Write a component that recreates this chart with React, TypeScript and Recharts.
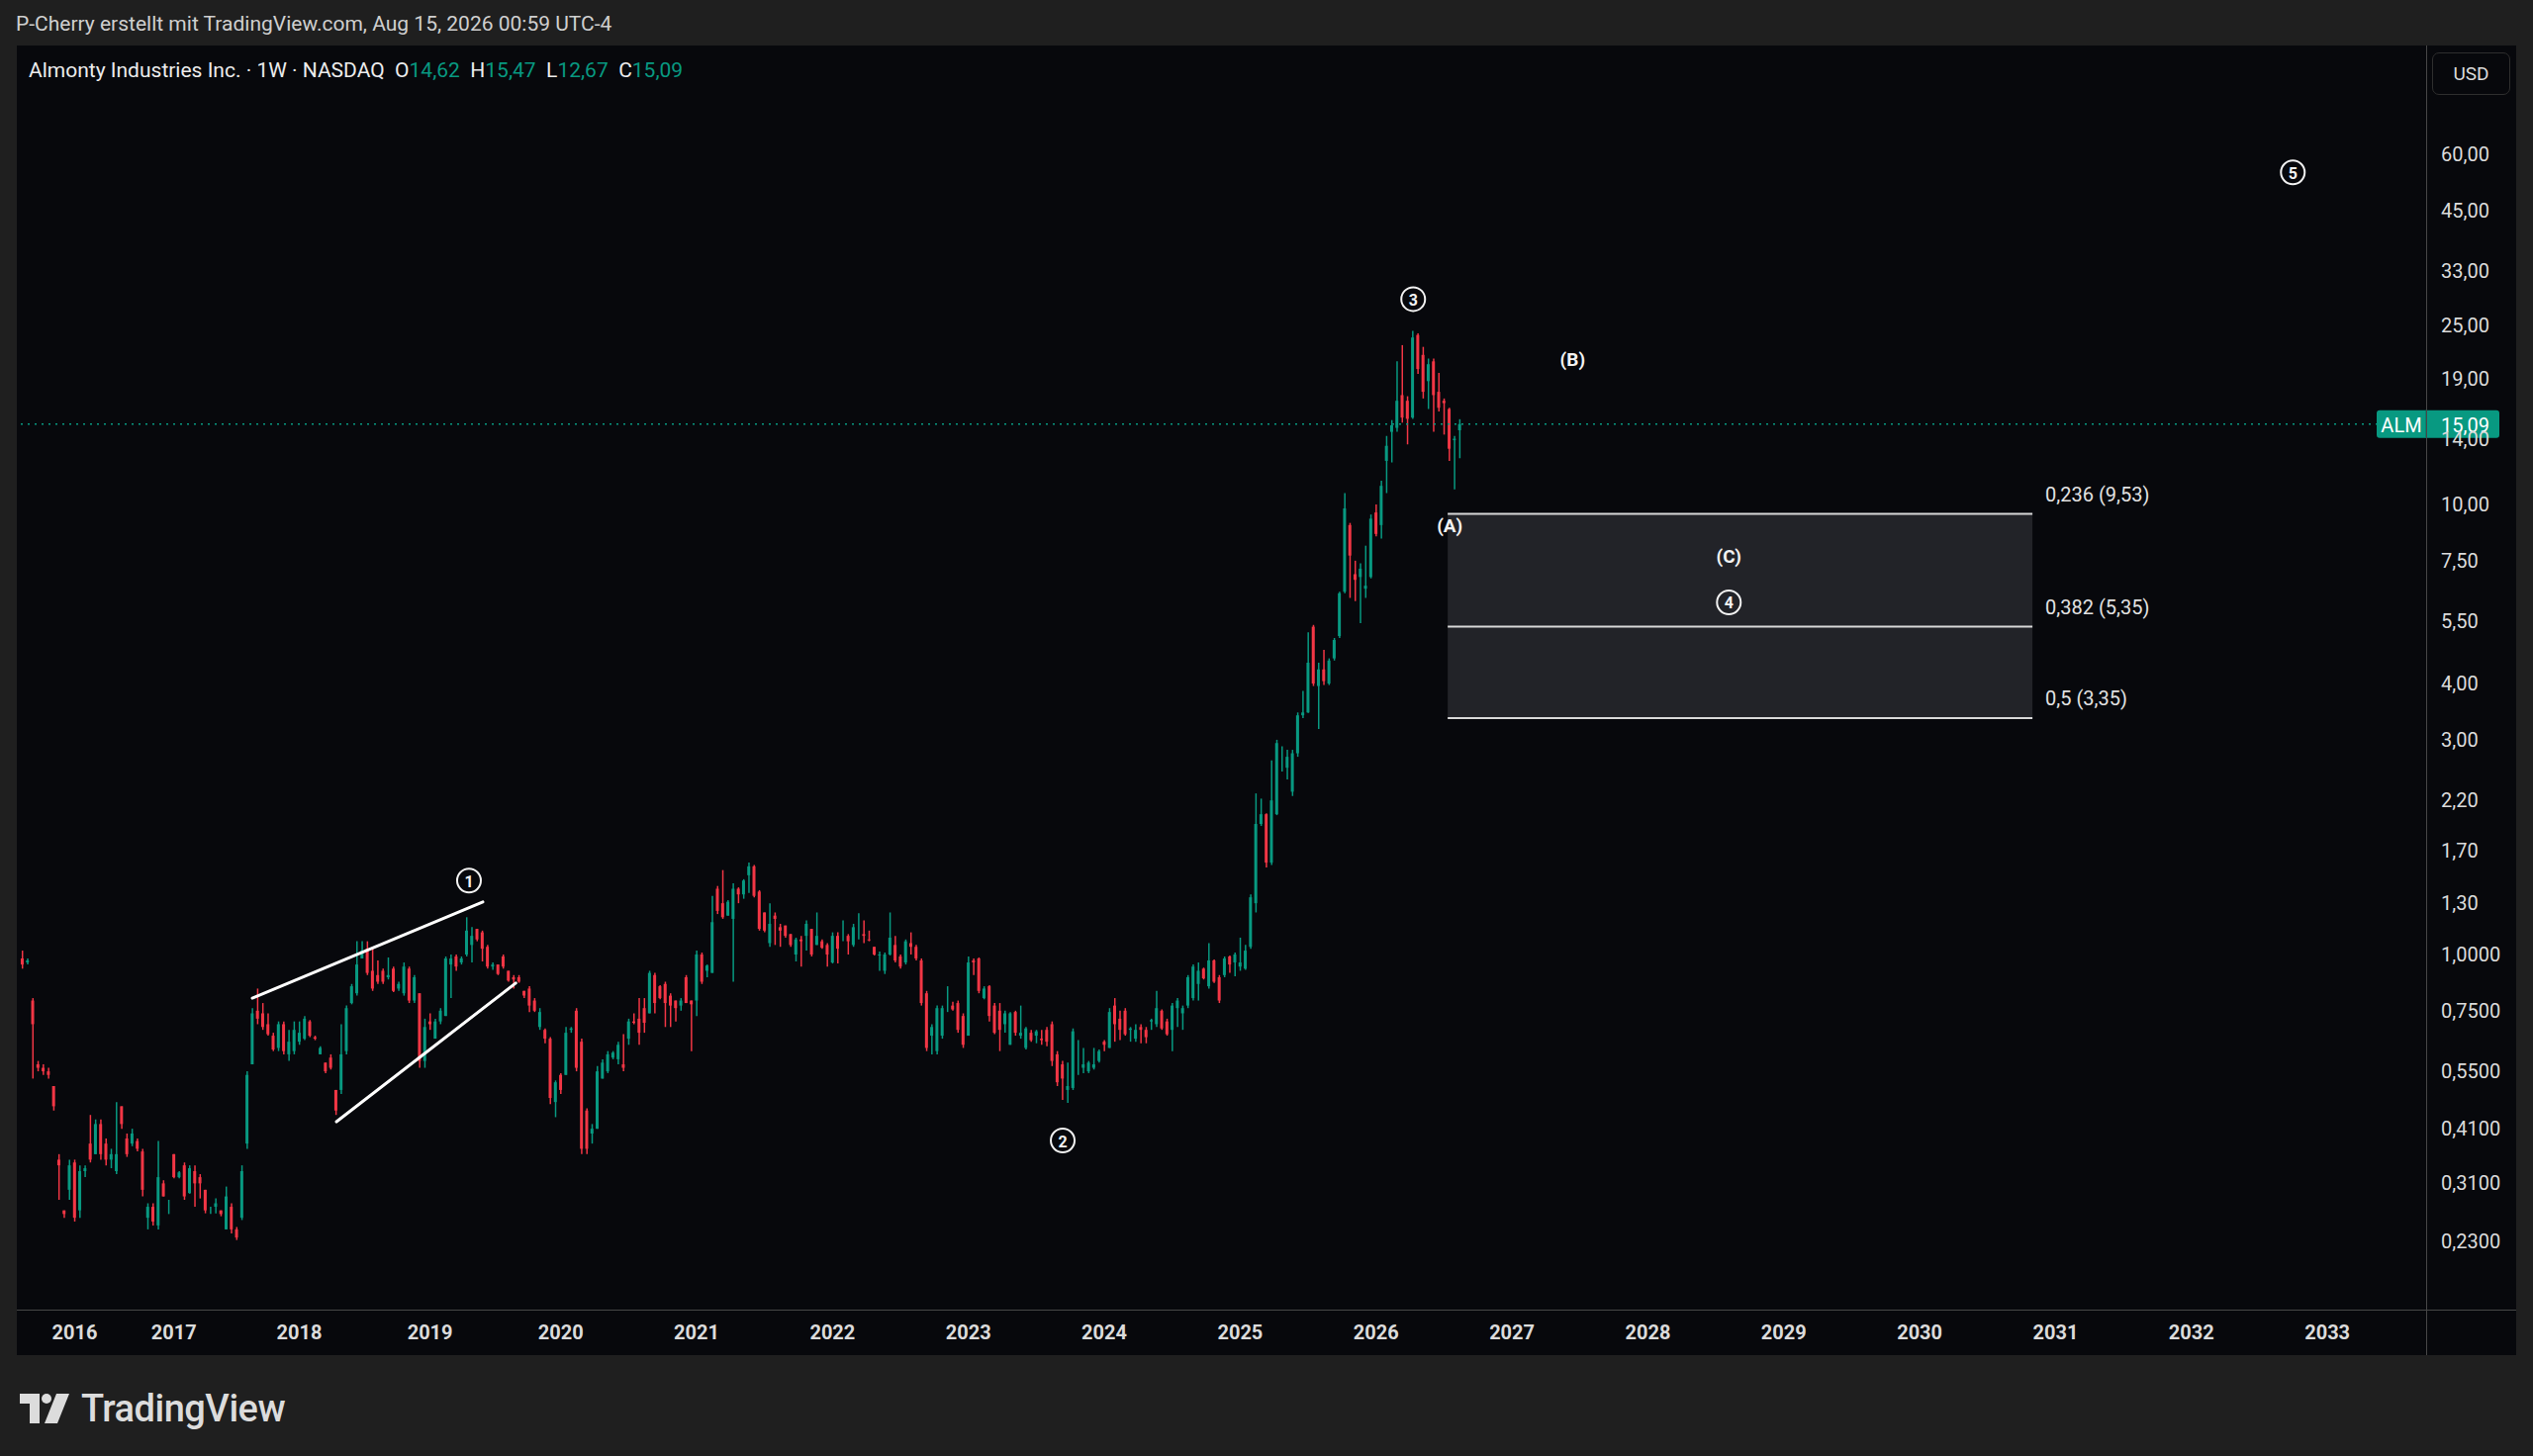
import React from 'react';
import {
  ComposedChart,
  Bar,
  Cell,
  XAxis,
  YAxis,
  ReferenceLine,
  ReferenceArea,
  ReferenceDot,
} from 'recharts';

type OHLC = [number, number, number, number];

// two-week candles, [open, high, low, close]
const bars2015: OHLC[] = [
  [0.98, 1.02, 0.93, 0.95], [0.96, 0.98, 0.95, 0.97], [0.79, 0.8, 0.53, 0.7], [0.57, 0.58, 0.55, 0.56],
  [0.56, 0.57, 0.54, 0.55], [0.55, 0.56, 0.53, 0.54], [0.51, 0.51, 0.45, 0.46], [0.35, 0.36, 0.285, 0.34],
  [0.27, 0.27, 0.26, 0.265], [0.3, 0.35, 0.285, 0.34],
];
const bars2016: OHLC[] = [
  [0.345, 0.35, 0.255, 0.26], [0.27, 0.34, 0.26, 0.33], [0.33, 0.34, 0.32, 0.335], [0.38, 0.44, 0.345, 0.35],
  [0.36, 0.43, 0.36, 0.42], [0.42, 0.43, 0.35, 0.36], [0.38, 0.39, 0.34, 0.35], [0.35, 0.37, 0.335, 0.36],
  [0.33, 0.47, 0.325, 0.36], [0.46, 0.46, 0.41, 0.42], [0.39, 0.4, 0.355, 0.36], [0.38, 0.41, 0.375, 0.4],
  [0.385, 0.39, 0.365, 0.37], [0.365, 0.37, 0.29, 0.3], [0.26, 0.28, 0.245, 0.275], [0.275, 0.28, 0.25, 0.255],
  [0.25, 0.385, 0.245, 0.32], [0.31, 0.315, 0.29, 0.29], [0.28, 0.285, 0.265, 0.28],
];
const bars2017: OHLC[] = [
  [0.36, 0.36, 0.318, 0.32], [0.32, 0.33, 0.318, 0.328], [0.34, 0.345, 0.285, 0.29], [0.295, 0.34, 0.294, 0.335],
  [0.33, 0.34, 0.275, 0.31], [0.32, 0.325, 0.287, 0.31], [0.3, 0.3, 0.266, 0.27], [0.27, 0.275, 0.265, 0.27],
  [0.275, 0.287, 0.266, 0.28], [0.27, 0.27, 0.262, 0.265], [0.245, 0.305, 0.245, 0.29], [0.275, 0.28, 0.24, 0.245],
  [0.245, 0.248, 0.232, 0.235], [0.26, 0.34, 0.257, 0.33], [0.38, 0.55, 0.37, 0.54], [0.57, 0.76, 0.57, 0.74],
  [0.75, 0.84, 0.7, 0.72], [0.74, 0.78, 0.68, 0.69], [0.7, 0.74, 0.66, 0.665], [0.66, 0.67, 0.61, 0.615],
  [0.62, 0.71, 0.61, 0.7], [0.7, 0.71, 0.6, 0.61], [0.6, 0.68, 0.58, 0.64], [0.61, 0.71, 0.6, 0.68],
];
const bars2018: OHLC[] = [
  [0.64, 0.71, 0.63, 0.67], [0.65, 0.73, 0.645, 0.72], [0.71, 0.715, 0.655, 0.66], [0.655, 0.66, 0.645, 0.65],
  [0.6, 0.625, 0.6, 0.62], [0.575, 0.575, 0.545, 0.55], [0.59, 0.6, 0.555, 0.56], [0.5, 0.5, 0.44, 0.45],
  [0.5, 0.7, 0.49, 0.6], [0.61, 0.77, 0.6, 0.76], [0.78, 0.86, 0.775, 0.85], [0.82, 1.07, 0.81, 0.95],
  [0.98, 1.07, 0.98, 1.02], [1.03, 1.07, 0.9, 0.91], [0.92, 1.04, 0.83, 0.84], [0.9, 0.97, 0.86, 0.87],
  [0.92, 0.93, 0.86, 0.87], [0.89, 0.985, 0.88, 0.9], [0.93, 0.94, 0.825, 0.83], [0.84, 0.87, 0.83, 0.86],
  [0.82, 0.96, 0.81, 0.94], [0.93, 0.94, 0.78, 0.79], [0.79, 0.9, 0.78, 0.89], [0.82, 0.82, 0.56, 0.58],
  [0.58, 0.72, 0.56, 0.69],
];
const bars2019: OHLC[] = [
  [0.71, 0.74, 0.68, 0.7], [0.65, 0.72, 0.65, 0.71], [0.71, 0.76, 0.7, 0.75], [0.73, 0.99, 0.73, 0.98],
  [0.95, 1.0, 0.8, 0.98], [0.99, 1.0, 0.92, 0.94], [0.96, 0.99, 0.95, 0.98], [1.0, 1.21, 0.99, 1.13],
  [1.05, 1.15, 0.96, 1.1], [1.14, 1.14, 1.07, 1.08], [1.12, 1.13, 0.965, 1.03], [1.04, 1.05, 0.93, 0.94],
  [0.94, 0.96, 0.925, 0.95], [0.95, 0.95, 0.9, 0.905], [0.99, 1.0, 0.93, 0.94], [0.92, 0.92, 0.87, 0.875],
  [0.89, 0.9, 0.84, 0.88], [0.89, 0.9, 0.865, 0.87], [0.83, 0.83, 0.8, 0.81], [0.84, 0.85, 0.745, 0.77],
  [0.79, 0.8, 0.745, 0.75], [0.69, 0.76, 0.68, 0.745], [0.68, 0.685, 0.635, 0.65], [0.65, 0.655, 0.465, 0.48],
  [0.47, 0.525, 0.435, 0.52],
];
const bars2020: OHLC[] = [
  [0.54, 0.545, 0.49, 0.5], [0.54, 0.69, 0.54, 0.67], [0.68, 0.69, 0.67, 0.685], [0.75, 0.76, 0.55, 0.56],
  [0.64, 0.65, 0.36, 0.37], [0.45, 0.455, 0.36, 0.37], [0.4, 0.42, 0.38, 0.41], [0.41, 0.565, 0.41, 0.55],
  [0.53, 0.585, 0.53, 0.575], [0.55, 0.61, 0.545, 0.6], [0.59, 0.61, 0.585, 0.605], [0.585, 0.64, 0.57, 0.63],
  [0.57, 0.665, 0.55, 0.56], [0.65, 0.72, 0.63, 0.71], [0.71, 0.74, 0.7, 0.705], [0.72, 0.8, 0.63, 0.67],
  [0.76, 0.8, 0.67, 0.705], [0.74, 0.92, 0.74, 0.91], [0.9, 0.91, 0.74, 0.78], [0.85, 0.855, 0.795, 0.8],
  [0.86, 0.87, 0.69, 0.78], [0.81, 0.82, 0.69, 0.77], [0.79, 0.79, 0.71, 0.76], [0.77, 0.8, 0.75, 0.79],
  [0.89, 0.9, 0.78, 0.78], [0.79, 0.79, 0.61, 0.775],
];
const bars2021: OHLC[] = [
  [0.79, 1.02, 0.73, 1.0], [1.0, 1.01, 0.86, 0.87], [0.92, 0.95, 0.89, 0.945], [0.91, 1.35, 0.91, 1.18],
  [1.4, 1.42, 1.23, 1.25], [1.3, 1.54, 1.2, 1.21], [1.22, 1.32, 1.22, 1.31], [1.2, 1.44, 0.87, 1.4],
  [1.4, 1.41, 1.3, 1.36], [1.36, 1.47, 1.33, 1.46], [1.5, 1.6, 1.37, 1.57], [1.57, 1.58, 1.34, 1.35],
  [1.38, 1.39, 1.13, 1.14], [1.24, 1.24, 1.12, 1.13], [1.06, 1.3, 1.04, 1.17], [1.22, 1.24, 1.05, 1.2],
  [1.15, 1.17, 1.04, 1.13], [1.16, 1.16, 1.09, 1.1], [1.11, 1.11, 1.04, 1.05], [1.0, 1.09, 0.965, 1.08],
  [1.08, 1.1, 0.94, 1.07], [1.1, 1.19, 1.02, 1.17], [1.14, 1.14, 0.99, 1.0], [1.05, 1.24, 1.05, 1.1],
  [1.07, 1.08, 1.03, 1.035], [1.05, 1.06, 0.94, 1.0],
];
const bars2022: OHLC[] = [
  [0.96, 1.12, 0.955, 1.1], [1.1, 1.12, 0.955, 1.03], [1.08, 1.19, 1.07, 1.08], [1.1, 1.11, 1.0, 1.07],
  [1.05, 1.17, 1.04, 1.15], [1.12, 1.235, 1.08, 1.12], [1.11, 1.19, 1.06, 1.1], [1.08, 1.13, 1.07, 1.075],
  [1.04, 1.04, 0.995, 1.0], [0.995, 1.015, 0.92, 1.0], [0.92, 1.01, 0.905, 1.0], [1.0, 1.24, 0.995, 1.09],
  [1.05, 1.1, 0.96, 0.97], [0.99, 1.0, 0.93, 0.94], [0.96, 1.08, 0.95, 1.07], [1.06, 1.12, 1.0, 1.04],
  [1.04, 1.05, 0.97, 0.98], [0.97, 0.98, 0.77, 0.78], [0.82, 0.83, 0.61, 0.62], [0.66, 0.7, 0.6, 0.69],
  [0.61, 0.77, 0.6, 0.76], [0.66, 0.77, 0.65, 0.76], [0.76, 0.85, 0.745, 0.76], [0.77, 0.785, 0.75, 0.755],
  [0.78, 0.79, 0.67, 0.68], [0.73, 0.74, 0.62, 0.63],
];
const bars2023: OHLC[] = [
  [0.66, 0.99, 0.66, 0.96], [0.97, 0.98, 0.9, 0.96], [0.98, 0.985, 0.82, 0.83], [0.8, 0.85, 0.795, 0.84],
  [0.85, 0.855, 0.71, 0.73], [0.77, 0.78, 0.665, 0.67], [0.75, 0.78, 0.61, 0.68], [0.7, 0.75, 0.67, 0.74],
  [0.63, 0.745, 0.63, 0.74], [0.745, 0.75, 0.66, 0.67], [0.66, 0.77, 0.65, 0.67], [0.62, 0.69, 0.615, 0.685],
  [0.67, 0.68, 0.64, 0.645], [0.66, 0.68, 0.635, 0.675], [0.65, 0.68, 0.63, 0.645], [0.68, 0.69, 0.625, 0.64],
  [0.7, 0.71, 0.565, 0.58], [0.6, 0.61, 0.51, 0.52], [0.57, 0.58, 0.475, 0.53], [0.5, 0.575, 0.468, 0.51],
  [0.505, 0.685, 0.5, 0.675], [0.6, 0.645, 0.54, 0.6], [0.56, 0.62, 0.545, 0.57], [0.55, 0.58, 0.545, 0.575],
  [0.56, 0.62, 0.555, 0.57], [0.58, 0.615, 0.575, 0.61],
];
const bars2024: OHLC[] = [
  [0.64, 0.645, 0.61, 0.63], [0.62, 0.76, 0.62, 0.745], [0.77, 0.8, 0.64, 0.7], [0.72, 0.75, 0.645, 0.68],
  [0.75, 0.76, 0.66, 0.665], [0.68, 0.69, 0.64, 0.685], [0.65, 0.7, 0.64, 0.68], [0.69, 0.7, 0.635, 0.68],
  [0.68, 0.69, 0.635, 0.655], [0.71, 0.72, 0.68, 0.715], [0.7, 0.83, 0.69, 0.76], [0.75, 0.755, 0.68, 0.685],
  [0.71, 0.72, 0.66, 0.665], [0.68, 0.78, 0.61, 0.77], [0.76, 0.8, 0.69, 0.79], [0.74, 0.77, 0.68, 0.76],
  [0.77, 0.9, 0.76, 0.89], [0.8, 0.95, 0.79, 0.94], [0.86, 0.96, 0.79, 0.92], [0.93, 0.935, 0.88, 0.885],
  [0.85, 1.06, 0.84, 0.97], [0.97, 0.975, 0.865, 0.87], [0.89, 0.9, 0.78, 0.79], [0.9, 0.99, 0.89, 0.98],
  [0.99, 0.995, 0.91, 0.95], [0.96, 1.01, 0.895, 1.0],
];
const bars2025: OHLC[] = [
  [0.94, 1.09, 0.92, 0.96], [0.93, 1.05, 0.925, 1.02], [1.04, 1.36, 1.03, 1.34], [1.3, 2.28, 1.24, 1.95],
  [1.95, 2.22, 1.93, 2.05], [2.05, 2.06, 1.56, 1.6], [1.6, 2.7, 1.58, 2.2], [2.05, 3.0, 2.04, 2.95],
  [2.85, 2.9, 2.55, 2.85], [2.6, 2.85, 2.45, 2.75], [2.3, 2.85, 2.25, 2.8], [2.8, 3.45, 2.75, 3.4],
  [3.4, 3.85, 3.35, 3.45], [3.45, 5.2, 3.44, 4.45], [5.35, 5.4, 3.95, 4.0], [3.95, 4.45, 3.17, 4.3],
  [4.3, 4.75, 3.97, 4.05], [4.0, 4.55, 3.97, 4.5], [4.55, 5.05, 4.5, 5.0], [5.1, 6.4, 5.05, 6.35],
  [6.4, 10.6, 6.35, 9.8], [9.0, 9.1, 6.2, 7.7], [7.0, 7.5, 6.1, 6.8], [6.9, 7.4, 5.45, 7.2],
  [6.5, 8.1, 6.2, 6.6], [6.9, 9.5, 6.85, 9.3],
];
const bars2026: OHLC[] = [
  [9.6, 10.0, 8.5, 8.6], [9.0, 11.3, 8.4, 11.0], [12.5, 14.2, 10.6, 13.5], [14.5, 15.4, 12.4, 15.0],
  [14.8, 20.8, 14.5, 17.0], [17.5, 22.6, 15.2, 15.6], [17.0, 17.4, 13.6, 15.5], [15.6, 24.3, 15.5, 23.5],
  [23.8, 24.0, 19.5, 20.0], [21.5, 22.4, 17.2, 17.8], [18.8, 21.1, 16.3, 20.5], [20.8, 21.1, 14.5, 17.5],
  [17.8, 19.6, 16.1, 16.4], [17.0, 17.2, 14.3, 16.8], [16.3, 16.4, 12.5, 13.3], [13.9, 14.2, 10.8, 14.0],
  [14.62, 15.47, 12.67, 15.09],
];

const dataYears = [2015, 2016, 2017, 2018, 2019, 2020, 2021, 2022, 2023, 2024, 2025, 2026];
const yearBlocks = [bars2015, bars2016, bars2017, bars2018, bars2019, bars2020, bars2021, bars2022, bars2023, bars2024, bars2025, bars2026];
const slotsPerYear = 26;

const yearLabels = ['2016', '2017', '2018', '2019', '2020', '2021', '2022', '2023', '2024', '2025', '2026', '2027', '2028', '2029', '2030', '2031', '2032', '2033'];
const priceTicks = [60, 45, 33, 25, 19, 14, 10, 7.5, 5.5, 4, 3, 2.2, 1.7, 1.3, 1, 0.75, 0.55, 0.41, 0.31, 0.23];
const priceTickLabels = ['60,00', '45,00', '33,00', '25,00', '19,00', '14,00', '10,00', '7,50', '5,50', '4,00', '3,00', '2,20', '1,70', '1,30', '1,0000', '0,7500', '0,5500', '0,4100', '0,3100', '0,2300'];

const ticker = 'ALM';
const fibLevels = [
  { ratio: '0,236', price: 9.53 },
  { ratio: '0,382', price: 5.35 },
  { ratio: '0,5', price: 3.35 },
];
const fibSpan = [2026.527, 2030.83];

// elliott wave marks: [text, circled, decimal year, price]
const waveMarks: [string, boolean, number, number][] = [
  ['1', true, 2019.298, 1.46],
  ['2', true, 2023.694, 0.386],
  ['3', true, 2026.273, 28.6],
  ['4', true, 2028.596, 6.06],
  ['5', true, 2032.746, 54.7],
  ['(A)', false, 2026.542, 8.95],
  ['(B)', false, 2027.446, 21.0],
  ['(C)', false, 2028.596, 7.65],
];
// wedge trend lines: [year1, price1, year2, price2]
const wedgeLines: [number, number, number, number][] = [
  [2017.625, 0.8, 2019.404, 1.308],
  [2018.284, 0.425, 2019.656, 0.864],
];

const UP = '#089981';
const DOWN = '#f23645';
const BG = '#07080c';
const PAGE = '#1f1f1f';
const TEXT = '#dbdbdb';
const FONT = 'Roboto, "Noto Sans", sans-serif';

const lastDataYear = dataYears[dataYears.length - 1];
const yearStart: Record<number, number> = {};
{
  let acc = 0;
  dataYears.forEach((y, k) => {
    yearStart[y] = acc;
    acc += yearBlocks[k].length;
  });
}
const startOf = (y: number) =>
  y <= lastDataYear ? yearStart[y] : yearStart[lastDataYear] + slotsPerYear * (y - lastDataYear);
const idxOf = (t: number) => {
  const y = Math.floor(t);
  return startOf(y) + (t - y) * (startOf(y + 1) - startOf(y));
};

const candles = yearBlocks.flat().map(([o, h, l, c], i) => ({
  i,
  o,
  h,
  l,
  c,
  wick: [l, h],
  body: [Math.min(o, c), Math.max(o, c)],
  up: c >= o,
}));
const last = candles[candles.length - 1];

const yearTicks = yearLabels.map((y) => startOf(Number(y)));
const viewStart = -1.06;
const viewEnd = idxOf(2033.727);

const fmt2 = (v: number) => v.toFixed(2).replace('.', ',');

function LastPriceTag(props: any) {
  const { viewBox } = props;
  const y = viewBox.y;
  const xr = viewBox.x + viewBox.width;
  return (
    <g>
      <rect x={xr - 50} y={y - 14} width={124} height={28} rx={3} fill={UP} />
      <line x1={xr} x2={xr} y1={y - 14} y2={y + 14} stroke="#067a68" strokeWidth={1.5} />
      <text x={xr - 25} y={y + 1} textAnchor="middle" dominantBaseline="central" fill="#ffffff" fontSize={20} fontFamily={FONT}>
        {ticker}
      </text>
      <text x={xr + 15} y={y + 1} dominantBaseline="central" fill="#ffffff" fontSize={20} fontFamily={FONT}>
        {fmt2(last.c)}
      </text>
    </g>
  );
}

function FibTag(props: any) {
  const { viewBox, text } = props;
  return (
    <text
      x={viewBox.x + viewBox.width + 13}
      y={viewBox.y - 20}
      dominantBaseline="central"
      fill="#e2e2e2"
      fontSize={20}
      fontFamily={FONT}
    >
      {text}
    </text>
  );
}

function WaveMark(props: any) {
  const { cx, cy, text, circled } = props;
  if (circled) {
    return (
      <g>
        <circle cx={cx} cy={cy} r={12} fill="none" stroke="#f2f2f2" strokeWidth={2} />
        <text x={cx} y={cy + 1} textAnchor="middle" dominantBaseline="central" fill="#f2f2f2" fontSize={16} fontWeight={700} fontFamily={FONT}>
          {text}
        </text>
      </g>
    );
  }
  return (
    <text x={cx} y={cy} textAnchor="middle" dominantBaseline="central" fill="#f2f2f2" fontSize={19} fontWeight={700} fontFamily={FONT}>
      {text}
    </text>
  );
}

function Logo() {
  return (
    <div style={{ position: 'absolute', left: 20, top: 1404, display: 'flex', alignItems: 'center', gap: 12 }}>
      <svg width={50} height={30} viewBox="0 0 50 30">
        <path d="M0 0 H20 V30 H10 V10 H0 Z" fill="#dcdcdc" />
        <circle cx={27} cy={5} r={5} fill="#dcdcdc" />
        <path d="M37 0 H50 L38 30 H25 Z" fill="#dcdcdc" />
      </svg>
      <span style={{ fontSize: 38, fontWeight: 500, color: '#dcdcdc', letterSpacing: -0.5, lineHeight: '40px' }}>TradingView</span>
    </div>
  );
}

export default function App() {
  const legendValues: [string, number][] = [
    ['O', last.o],
    ['H', last.h],
    ['L', last.l],
    ['C', last.c],
  ];
  return (
    <div style={{ position: 'relative', width: 2560, height: 1472, background: PAGE, fontFamily: FONT, overflow: 'hidden' }}>
      <style>{'body{margin:0;background:#1f1f1f}'}</style>
      <div style={{ position: 'absolute', left: 16, top: 12, fontSize: 21, color: '#cfcfcf', lineHeight: '24px' }}>
        P-Cherry erstellt mit TradingView.com, Aug 15, 2026 00:59 UTC-4
      </div>

      <div style={{ position: 'absolute', left: 17, top: 46, width: 2526, height: 1324, background: BG }}>
        <ComposedChart width={2526} height={1324} data={candles} margin={{ top: 0, right: 0, bottom: 0, left: 0 }}>
          <XAxis
            xAxisId="t"
            dataKey="i"
            type="number"
            domain={[viewStart, viewEnd]}
            allowDataOverflow
            ticks={yearTicks}
            interval={0}
            tickFormatter={(v: number) => yearLabels[yearTicks.indexOf(v)] ?? ''}
            height={46}
            axisLine={false}
            tickLine={false}
            tickSize={0}
            tickMargin={16}
            tick={{ fill: TEXT, fontSize: 20, fontWeight: 700, fontFamily: FONT }}
          />
          <XAxis xAxisId="b" dataKey="i" type="number" domain={[viewStart, viewEnd]} allowDataOverflow hide height={0} />
          <YAxis
            orientation="right"
            type="number"
            scale="log"
            domain={[0.1625, 104.7]}
            allowDataOverflow
            ticks={priceTicks}
            interval={0}
            width={91}
            axisLine={false}
            tickLine={false}
            tickSize={0}
            tickMargin={15}
            tickFormatter={(v: number) => priceTickLabels[priceTicks.indexOf(v)] ?? ''}
            tick={{ fill: TEXT, fontSize: 20, fontFamily: FONT }}
          />

          <ReferenceArea
            xAxisId="t"
            x1={idxOf(fibSpan[0])}
            x2={idxOf(fibSpan[1])}
            y1={fibLevels[fibLevels.length - 1].price}
            y2={fibLevels[0].price}
            fill="#222328"
            fillOpacity={1}
            stroke="none"
          />

          <Bar xAxisId="t" dataKey="wick" barSize={1.5} isAnimationActive={false}>
            {candles.map((d) => (
              <Cell key={`w${d.i}`} fill={d.up ? UP : DOWN} />
            ))}
          </Bar>
          <Bar xAxisId="b" dataKey="body" barSize={3} isAnimationActive={false}>
            {candles.map((d) => (
              <Cell key={`b${d.i}`} fill={d.up ? UP : DOWN} />
            ))}
          </Bar>

          {fibLevels.map((f) => (
            <ReferenceLine
              key={f.ratio}
              xAxisId="t"
              segment={[
                { x: idxOf(fibSpan[0]), y: f.price },
                { x: idxOf(fibSpan[1]), y: f.price },
              ]}
              stroke="#d8d8d8"
              strokeWidth={2}
              label={<FibTag text={`${f.ratio} (${fmt2(f.price)})`} />}
            />
          ))}

          {wedgeLines.map(([t1, p1, t2, p2], k) => (
            <ReferenceLine
              key={`wl${k}`}
              xAxisId="t"
              segment={[
                { x: idxOf(t1), y: p1 },
                { x: idxOf(t2), y: p2 },
              ]}
              stroke="#ffffff"
              strokeWidth={3}
              strokeLinecap="round"
            />
          ))}

          {waveMarks.map(([text, circled, t, p]) => (
            <ReferenceDot
              key={text}
              xAxisId="t"
              x={idxOf(t)}
              y={p}
              r={12}
              shape={(s: any) => <WaveMark cx={s.cx} cy={s.cy} text={text} circled={circled} />}
            />
          ))}

          <ReferenceLine
            xAxisId="t"
            y={last.c}
            stroke={UP}
            strokeWidth={1.5}
            strokeDasharray="2 5"
            label={<LastPriceTag />}
          />
        </ComposedChart>

        {/* pane separators */}
        <div style={{ position: 'absolute', left: 2435, top: 0, width: 1, height: 1324, background: '#474747' }} />
        <div style={{ position: 'absolute', left: 0, top: 1278, width: 2526, height: 1, background: '#474747' }} />

        <div style={{ position: 'absolute', left: 12, top: 13, fontSize: 21, color: '#ececec', lineHeight: '24px', whiteSpace: 'pre' }}>
          {'Almonty Industries Inc. · 1W · NASDAQ  '}
          {legendValues.map(([k, v]) => (
            <span key={k}>
              {k}
              <span style={{ color: UP }}>{fmt2(v)}</span>
              {'  '}
            </span>
          ))}
        </div>

        <div
          style={{
            position: 'absolute',
            left: 2441,
            top: 7,
            width: 79,
            height: 43,
            border: '1px solid #2e2e2e',
            borderRadius: 7,
            boxSizing: 'border-box',
            color: TEXT,
            fontSize: 19,
            display: 'flex',
            alignItems: 'center',
            justifyContent: 'center',
          }}
        >
          USD
        </div>
      </div>

      <Logo />
    </div>
  );
}
